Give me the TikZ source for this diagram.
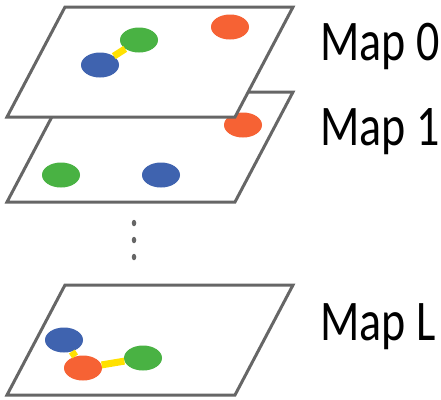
\documentclass[tikz,border=0pt]{standalone}
\usepackage{graphicx}
\usepackage{fontspec}
\setmainfont{Carlito}
\usetikzlibrary{shapes.geometric}

\definecolor{planegray}{HTML}{666666}
\definecolor{dotorange}{HTML}{F66234}
\definecolor{dotgreen}{HTML}{49B243}
\definecolor{dotblue}{HTML}{3F63AF}
\definecolor{linkyellow}{HTML}{FFE100}

\newcommand{\maplabel}[1]{\scalebox{1}[1.25]{#1}}

\begin{document}
\begin{tikzpicture}[x=1pt,y=-1pt,
  plane/.style={draw=planegray,line width=3pt,fill=white,line join=miter},
  vtx/.style={ellipse,minimum width=38pt,minimum height=25pt,inner sep=0pt},
  link/.style={draw=linkyellow,line width=7pt},
  vdot/.style={ellipse,fill=planegray,minimum width=4.5pt,minimum height=6.5pt,inner sep=0pt},
  lbl/.style={anchor=base west,inner sep=0pt,font=\fontsize{46}{50}\selectfont}]
\useasboundingbox (0,0) rectangle (441,399);

% Map L
\draw[plane] (65,285) -- (293,285) -- (235,395) -- (7,395) -- cycle;
\node[vtx, fill=dotblue] (lb) at (64,340) {};
\node[vtx, fill=dotorange] (lo) at (83,368) {};
\node[vtx, fill=dotgreen] (lg) at (143,358) {};
\draw[link] (lb) -- (lo);
\draw[link] (lo) -- (lg);

% dots
\node[vdot] (d1) at (134,223) {};
\node[vdot] (d2) at (134,240) {};
\node[vdot] (d3) at (134,257) {};

% Map 1
\draw[plane] (65,92) -- (293,92) -- (235,202) -- (7,202) -- cycle;
\node[vtx, fill=dotorange] (1o) at (243,125) {};
\node[vtx, fill=dotgreen] (1g) at (61,175) {};
\node[vtx, fill=dotblue] (1b) at (161,175) {};

% Map 0
\draw[plane] (65,7) -- (293,7) -- (235,117) -- (7,117) -- cycle;
\node[vtx, fill=dotgreen] (0g) at (139,40) {};
\node[vtx, fill=dotblue] (0b) at (100,65) {};
\node[vtx, fill=dotorange] (0o) at (230,27) {};
\draw[link] (0b) -- (0g);

% labels
\node[lbl] (m0) at (320,60) {\maplabel{Map 0}};
\node[lbl] (m1) at (320,145) {\maplabel{Map 1}};
\node[lbl] (mL) at (320,340) {\maplabel{Map L}};
\end{tikzpicture}
\end{document}
